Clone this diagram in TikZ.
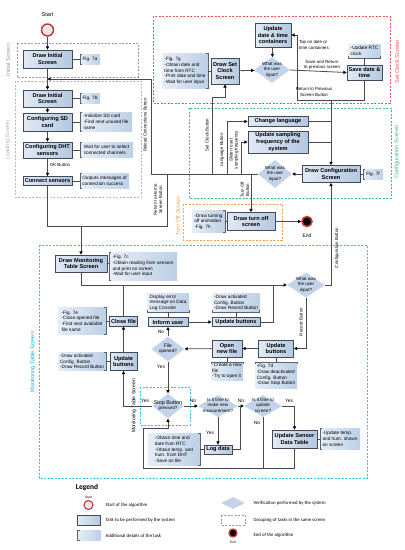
\documentclass[tikz,border=0pt]{standalone}
\usepackage{fontspec}
\setmainfont{Liberation Sans}
\newfontfamily\legfont{Carlito}
\usetikzlibrary{arrows.meta,shapes.geometric}
\definecolor{taskbd}{HTML}{3F4B5B}
\definecolor{tasklt}{HTML}{E2EAF4}
\definecolor{taskdk}{HTML}{B4C8E1}
\definecolor{detlt}{HTML}{E6EEF7}
\definecolor{detdk}{HTML}{BDD0E7}
\definecolor{decfill}{HTML}{C3D4EA}
\definecolor{lncol}{HTML}{4A4A4A}
\definecolor{brkcol}{HTML}{5A6470}
\definecolor{grpgray}{HTML}{9A9A9A}
\definecolor{grpred}{HTML}{E8585A}
\definecolor{grpgreen}{HTML}{3DBB8C}
\definecolor{grporange}{HTML}{F2A25A}
\definecolor{grpcyan}{HTML}{2EC4E6}
\definecolor{cyantxt}{HTML}{1EA7E0}
\definecolor{startred}{HTML}{C8323A}
\definecolor{endred}{HTML}{D23A3A}
\newcommand\brkleft[1]{\draw[brk] ([xshift=2.5pt]#1.north west) -- (#1.north west) -- (#1.south west) -- ([xshift=2.5pt]#1.south west);}
\newcommand\brkright[1]{\draw[brk] ([xshift=-2.5pt]#1.north east) -- (#1.north east) -- (#1.south east) -- ([xshift=-2.5pt]#1.south east);}
\newcommand\brktop[1]{\draw[brk] ([yshift=-2.5pt]#1.north west) -- (#1.north west) -- (#1.north east) -- ([yshift=-2.5pt]#1.north east);}
\newcommand\brkbot[1]{\draw[brk] ([yshift=2.5pt]#1.south west) -- (#1.south west) -- (#1.south east) -- ([yshift=2.5pt]#1.south east);}
\newcommand\dectxt[1]{\raisebox{-1.1pt}[0pt][0pt]{\makebox[0pt]{\begin{tabular}{@{}c@{}}#1\end{tabular}}}}

\begin{document}
\begin{tikzpicture}[x=1pt,y=-1pt,
  task/.style={draw=taskbd, line width=0.8pt, left color=tasklt, right color=taskdk, inner sep=1pt, align=center, font=\bfseries\fontsize{5.6}{6.6}\selectfont},
  detail/.style={left color=detlt, right color=detdk, inner sep=1pt, align=left, font=\fontsize{4.7}{5.7}\selectfont},
  decision/.style={diamond, fill=decfill, inner sep=0pt, font=\fontsize{4.5}{5.4}\selectfont},
  grp/.style={line width=0.6pt, dash pattern=on 2pt off 1.5pt},
  grplbl/.style={rotate=90, font=\fontsize{5.6}{6.6}\selectfont},
  elab/.style={font=\fontsize{4.4}{5.2}\selectfont, align=center},
  yn/.style={font=\fontsize{4.8}{5.6}\selectfont},
  legtxt/.style={anchor=west, font=\legfont\fontsize{4.8}{5.6}\selectfont},
  ln/.style={draw=lncol, line width=0.8pt},
  arr/.style={ln, -{Triangle[length=3.2pt,width=3.2pt,color=black]}},
  brk/.style={draw=brkcol, line width=0.6pt},
  startc/.style={circle, inner sep=0pt, minimum size=12, draw=startred, line width=1.4pt, fill=gray!18},
  endc/.style={circle, inner sep=0pt, minimum size=10, draw=endred, line width=1.6pt, fill=black}]
\useasboundingbox (0,0) rectangle (405,550);

\draw[grp, draw=grpgray] (17,43) rectangle (138,77);
\draw[grp, draw=grpgray!70] (15,81) rectangle (141,197);
\draw[grp, draw=grpred] (153,16) rectangle (390,103);
\draw[grp, draw=grpgreen] (189,108) rectangle (391,198);
\draw[grp, draw=grporange] (183,204) rectangle (282,240);
\draw[grp, draw=grpcyan] (39,245) rectangle (367,478);
\draw[grp, draw=grpcyan] (140,387) rectangle (190,425);

\node[grplbl, text=grpgray] (initlbl) at (8,60) {Initial Screen};
\node[grplbl, text=grpgray!80] (loadlbl) at (8,140) {Loading Screen};
\node[grplbl, text=grpred] (clocklbl) at (397,62) {Set Clock Screen};
\node[grplbl, text=grpgreen] (cfglbl) at (397,152) {Configuration Screen};
\node[grplbl, text=grporange] (offlbl) at (178,216) {Turn Off Screen};
\node[grplbl, text=cyantxt] (monlbl) at (33,362) {Monitoring Table Screen};
\node[grplbl, font=\fontsize{5}{6}\selectfont] (stoplbl) at (134,406) {Monitoring Table Screen};

\node[font=\fontsize{5.5}{6}\selectfont] (startlbl) at (47.5,15) {Start};
\node[startc] (start) at (47.5,30) {};

\node[task, minimum width=49, minimum height=18] (initdraw) at (47.5,59) {Draw Initial\\Screen};
\node[detail, minimum width=20, minimum height=10] (fig7a) at (90,59) {Fig. 7a};
\node[task, minimum width=49, minimum height=17] (loaddraw) at (47.5,98.5) {Draw Initial\\Screen};
\node[detail, minimum width=20, minimum height=10] (fig7b) at (90,98.5) {Fig. 7b};
\node[task, minimum width=49, minimum height=18] (sdcfg) at (47.5,122) {Configuring SD\\card};
\node[detail, minimum width=52, minimum height=19] (sddet) at (106,122) {-Initialize SD card\\-Find next unused file\\name};
\node[task, minimum width=49, minimum height=16] (dhtcfg) at (47.5,150) {Configuring DHT\\sensors};
\node[detail, minimum width=53, minimum height=15] (dhtdet) at (106.5,150) {Wait for user to select\\connected channels};
\node[task, minimum width=49, minimum height=9] (connsens) at (47.5,181) {Connect sensors};
\node[detail, minimum width=49, minimum height=15] (conndet) at (104.5,181) {Outputs messages of\\connection success};

\node[detail, minimum width=46, minimum height=35] (clockdet) at (185,71) {-Fig. 7g\\-Obtain date and\\time from RTC\\-Print date and time\\-Wait for user input};
\node[task, minimum width=28, minimum height=26] (clockdraw) at (225,71) {Draw Set\\Clock\\Screen};
\node[decision, minimum width=36, minimum height=26] (clockdec) at (272,70) {\dectxt{What was\\the user\\input?}};
\node[task, minimum width=36, minimum height=24] (updcont) at (273,35) {Update\\date \& time\\containers};
\node[detail, minimum width=32, minimum height=14] (rtcdet) at (364.5,51) {-Update RTC\\clock};
\node[task, minimum width=35, minimum height=15] (savedt) at (364.5,72.5) {Save date \&\\time};

\node[task, minimum width=60, minimum height=10] (chlang) at (278,121.5) {Change language};
\node[task, minimum width=60, minimum height=22] (updfreq) at (278,142) {Update sampling\\frequency of the\\system};
\node[decision, minimum width=34, minimum height=28] (cfgdec) at (275,174) {\dectxt{What was\\the user\\input?}};
\node[task, minimum width=58, minimum height=17] (cfgdraw) at (331,174) {Draw Configuration\\Screen};
\node[detail, minimum width=20, minimum height=10] (fig7f) at (373,174) {Fig. 7f};

\node[detail, minimum width=33, minimum height=22] (offdet) at (208.5,221.5) {-Draw turning\\off animation\\-Fig. 7h};
\node[task, minimum width=48, minimum height=18] (offdraw) at (251,221.5) {Draw turn off\\screen};
\node[endc] (end) at (307,221.5) {};
\node[font=\fontsize{5}{6}\selectfont] (endlbl) at (307,236) {End};

\node[task, minimum width=52, minimum height=17] (mondraw) at (81,263.5) {Draw Monitoring\\Table Screen};
\node[detail, minimum width=68, minimum height=28] (mondet) at (143,266) {-Fig. 7c\\-Obtain reading from sensors\\and print on screen\\-Wait for user input};
\node[decision, minimum width=38, minimum height=25] (mondec) at (306,285) {\dectxt{What was\\the user\\input?}};
\node[detail, minimum width=48, minimum height=27] (closedet) at (82,321) {-Fig. 7e\\-Close opened file\\-Find next available\\file name};
\node[task, minimum width=28, minimum height=10] (closef) at (123.5,321) {Close file};
\node[detail, minimum width=48, minimum height=18] (btnldet) at (82,361.5) {-Draw activated\\Config. Button\\-Draw Record Button};
\node[task, minimum width=27, minimum height=18] (updbtnl) at (123.5,361.5) {Update\\buttons};
\node[detail, minimum width=42, minimum height=19] (infodet) at (168,302.5) {Display error\\message on Data\\Log Console};
\node[task, minimum width=40, minimum height=9] (inform) at (168,322) {Inform user};
\node[detail, minimum width=47, minimum height=19] (btnmdet) at (236,302.5) {-Draw activated\\Config. Button\\-Draw Record Button};
\node[task, minimum width=48, minimum height=9] (updbtnm) at (236,322) {Update buttons};
\node[decision, minimum width=33, minimum height=25] (filedec) at (168,349) {\dectxt{\fontsize{5}{5.8}\selectfont File\\opened?}};
\node[task, minimum width=30, minimum height=17] (openf) at (227,348.5) {Open\\new file};
\node[detail, minimum width=32, minimum height=18] (opendet) at (227,371) {-Create a new\\file\\-Try to open it};
\node[task, minimum width=35, minimum height=17] (updbtnr) at (276,348.5) {Update\\buttons};
\node[detail, minimum width=42, minimum height=26] (btnrdet) at (276,375) {-Fig. 7d\\-Draw deactivated\\Config. Button\\-Draw Stop Button};
\node[decision, minimum width=31, minimum height=25] (stopdec) at (168,406) {\dectxt{\fontsize{5.4}{6.2}\selectfont Stop Button\\pressed?}};
\node[decision, minimum width=40, minimum height=22] (measdec) at (218,406) {\dectxt{Is it time to\\make new\\measurement?}};
\node[decision, minimum width=38, minimum height=22] (scrdec) at (263,406) {\dectxt{Is it time to\\update\\screen?}};
\node[detail, minimum width=52, minimum height=32] (logdet) at (174,449.5) {-Obtain time and\\date from RTC\\-Obtain temp. and\\hum. from DHT\\-Save on file};
\node[task, minimum width=28, minimum height=9] (logdata) at (218,449.5) {Log data};
\node[task, minimum width=45, minimum height=18] (updtable) at (294.5,439) {Update Sensor\\Data Table};
\node[detail, minimum width=40, minimum height=21] (tabdet) at (340,439) {-Update temp.\\and hum. shown\\on screen};

\brkleft{fig7a} \brkleft{fig7b} \brkleft{sddet} \brkleft{dhtdet} \brkleft{conndet}
\brkright{clockdet} \brkbot{rtcdet} \brkleft{fig7f} \brkright{offdet}
\brkleft{mondet} \brkright{closedet} \brkright{btnldet} \brkbot{infodet} \brkbot{btnmdet}
\brktop{opendet} \brktop{btnrdet} \brkright{logdet} \brkleft{tabdet}

\draw[ln] (initdraw.east) -- (fig7a.west);
\draw[ln] (loaddraw.east) -- (fig7b.west);
\draw[ln] (sdcfg.east) -- (sddet.west);
\draw[ln] (dhtcfg.east) -- (dhtdet.west);
\draw[ln] (connsens.east) -- (conndet.west);
\draw[ln] (clockdet.east) -- (clockdraw.west);
\draw[ln] (rtcdet.south) -- (savedt.north);
\draw[ln] (cfgdraw.east) -- (fig7f.west);
\draw[ln] (offdet.east) -- (offdraw.west);
\draw[ln] (mondraw.east) -- (mondraw.east -| mondet.west);
\draw[ln] (closedet.east) -- (closef.west);
\draw[ln] (btnldet.east) -- (updbtnl.west);
\draw[ln] (infodet.south) -- (inform.north);
\draw[ln] (btnmdet.south) -- (updbtnm.north);
\draw[ln] (opendet.north) -- (openf.south);
\draw[ln] (btnrdet.north) -- (updbtnr.south);
\draw[ln] (logdet.east) -- (logdata.west);
\draw[ln] (updtable.east) -- (tabdet.west);

\coordinate (reljoin) at (47.5,79);
\coordinate (homej) at (81,226);
\coordinate (relbr) at (151,174);
\coordinate (homebr) at (167,174);
\coordinate (clkbr) at (212,174);
\coordinate (clkbend) at (212,97);
\coordinate (langbr) at (227,174);
\coordinate (sldbr) at (241,174);
\coordinate (offbr) at (251,174);
\coordinate (clkj) at (297,70);
\coordinate (cfgj) at (331,100);
\coordinate (monj) at (273,285);
\coordinate (logj) at (240.5,406);
\coordinate (loopl) at (143,468);
\coordinate (loopt) at (143,428);

\draw[arr] (start) -- (initdraw);
\draw[arr] (initdraw) -- (loaddraw);
\draw[arr] (loaddraw) -- (sdcfg);
\draw[arr] (sdcfg) -- (dhtcfg);
\draw[arr] (dhtcfg) -- (connsens);
\node[elab] (okl) at (60,165) {OK Button};
\draw[ln] (connsens) |- (homej);
\draw[arr] (homej) -- (mondraw);

\draw[arr] (clockdraw) -- (clockdec);
\draw[arr] (updcont) -- (clockdec);
\draw[arr] (clockdec.east) -- (savedt.west);
\draw[arr] (clkj) |- (updcont.east);
\draw[arr] (clkj) |- (cfgj) -- (cfgdraw.north);
\draw[ln] (savedt.south) |- (cfgj);
\node[elab, align=left] (tapl) at (314,45) {Tap on date or\\time containers};
\node[elab] (savel) at (322,64.5) {Save and Return\\to previous screen};
\node[elab] (retl) at (314,92) {Return to Previous\\Screen Button};

\draw[ln] (chlang.east) -- (chlang.east -| cfgj);
\draw[ln] (updfreq.east) -- (updfreq.east -| cfgj);
\draw[arr] (cfgdraw.west) -- (cfgdec.east);
\draw[ln] (cfgdec.west) -- (relbr);
\draw[arr] (relbr) |- (reljoin);
\draw[ln] (homebr) |- (homej);
\draw[arr] (clkbr) -- (clkbend) -| (clockdraw.south);
\draw[arr] (langbr) |- (chlang.west);
\draw[arr] (sldbr) |- (updfreq.west);
\draw[arr] (offbr) -- (offdraw.north);
\draw[arr] (offdraw.east) -- (end.west);
\node[elab, rotate=90] (rell) at (145,125) {Reload Connections Button};
\node[elab, rotate=90] (homel) at (158,200) {Return to Home\\Screen Button};
\node[elab, rotate=90] (clkl) at (207,135) {Set Clock Button};
\node[elab, rotate=90] (langl) at (222,150) {Language Button};
\node[elab, rotate=90] (sldl) at (234,150) {Slider to set\\sampling frequency};
\node[elab, rotate=90] (offl) at (245,190) {Turn Off\\Button};

\draw[arr] (mondraw.south) |- (mondec.west);
\draw[arr] (mondec.east) -| (cfgdraw.south);
\draw[arr] (mondec.south) |- (updbtnr.east);
\node[elab, rotate=90] (cfgbl) at (337,248) {Configuration Button};
\node[elab, rotate=90] (recl) at (301,322) {Record Button};
\draw[arr] (updbtnr) -- (openf);
\draw[arr] (openf) -- (filedec);
\draw[arr] (filedec) -- (inform);
\draw[arr] (inform) -- (updbtnm);
\draw[ln] (updbtnm.east) -| (monj);
\draw[ln] (closef.north) -- (closef.north |- monj);
\draw[arr] (filedec) -- (stopdec);
\draw[arr] (stopdec.west) -| (updbtnl.south);
\draw[arr] (updbtnl) -- (closef);
\draw[arr] (stopdec) -- (measdec);
\draw[arr] (measdec) -- (scrdec);
\draw[arr] (measdec) -- (logdata);
\draw[ln] (logdata.east) -| (logj);
\draw[arr] (scrdec.east) -| (updtable.north);
\draw[ln] (scrdec.south) -- (scrdec.south |- loopl);
\draw[arr] (updtable.south) |- (loopl) -- (loopt) -| (stopdec.south);
\node[yn] (fnol) at (161,332) {No};
\node[yn] (fyesl) at (161,367) {Yes};
\node[yn] (syesl) at (145,401) {Yes};
\node[yn] (snol) at (193,401) {No};
\node[yn] (mnol) at (241,401) {No};
\node[yn] (myesl) at (210,433) {Yes};
\node[yn] (ryesl) at (289,401) {Yes};
\node[yn] (rnol) at (257,423) {No};

\node[font=\legfont\bfseries\fontsize{7.5}{8}\selectfont] (legtitle) at (87,487) {Legend};
\node[font=\fontsize{3.2}{4}\selectfont] (legstartlbl) at (88.5,497.5) {Start};
\node[startc, minimum size=9, line width=1.1pt] (legstart) at (88.5,505) {};
\node[legtxt] (legstarttx) at (102,505) {Start of the algorithm};
\node[task, minimum width=23, minimum height=10] (legtask) at (89,520.5) {};
\node[legtxt] (legtasktx) at (102,520.5) {Task to be performed by the system};
\node[detail, minimum width=23, minimum height=10] (legdet) at (89,535.5) {};
\brkleft{legdet}
\node[legtxt] (legdettx) at (102,535.5) {Additional details of the task};
\node[decision, minimum width=24, minimum height=12] (legdec) at (233,503) {};
\node[legtxt] (legdectx) at (250,503.5) {Verification performed by the system};
\draw[grp, draw=grpgray] (221,515) rectangle (245,525);
\node[legtxt] (leggrptx) at (250,520.5) {Grouping of tasks in the same screen};
\node[endc, minimum size=8, line width=1.3pt] (legend) at (233,533) {};
\node[font=\fontsize{3.2}{4}\selectfont] (legendlbl) at (233,542.5) {End};
\node[legtxt] (legendtx) at (250,535.5) {End of the algorithm};
\end{tikzpicture}
\end{document}
